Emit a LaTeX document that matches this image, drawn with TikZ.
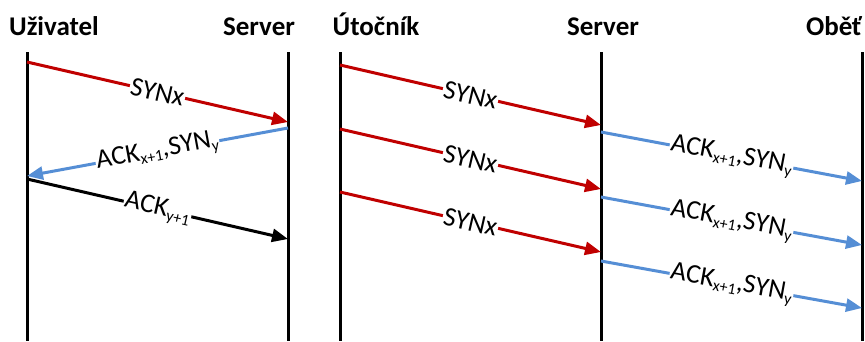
\documentclass[tikz,border=0pt]{standalone}
\usepackage{fontspec}
\setmainfont{Carlito}
\usetikzlibrary{arrows.meta}
\definecolor{synred}{RGB}{192,0,0}
\definecolor{ackblue}{RGB}{85,142,213}
% lowered, smaller index text for message labels
\newcommand\idx[1]{\raisebox{-0.32ex}{\fontsize{16}{16}\selectfont #1}}

\begin{document}
\begin{tikzpicture}[x=1pt,y=-1pt,
  lifeline/.style={line width=3pt},
  msg/.style={line width=3pt,-{Triangle[length=16pt,width=13pt]}},
  title/.style={font=\fontsize{27}{30}\selectfont\bfseries,anchor=base,inner sep=0pt},
  lbl/.style={fill=white,inner sep=1pt,sloped,font=\fontsize{27}{30}\selectfont}
]
\useasboundingbox (0,0) rectangle (865,341);

% participants
\node[title] (user)   at (54,35)  {Uživatel};
\node[title] (srvA)   at (259,35) {Server};
\node[title] (atk)    at (376,35) {Útočník};
\node[title] (srvB)   at (603,35) {Server};
\node[title] (victim) at (834,35) {Oběť};

% lifelines
\coordinate (userTop) at (27,52);   \coordinate (userBot) at (27,341);
\coordinate (srvATop) at (288,52);  \coordinate (srvABot) at (288,341);
\coordinate (atkTop)  at (340,52);  \coordinate (atkBot)  at (340,341);
\coordinate (srvBTop) at (601,52);  \coordinate (srvBBot) at (601,341);
\coordinate (vicTop)  at (862,52);  \coordinate (vicBot)  at (862,341);
\foreach \l in {user,srvA,atk,srvB,vic}
  \draw[lifeline] (\l Top) -- (\l Bot);

% three-way handshake
\coordinate (u1) at (27,62);   \coordinate (s1) at (288,122);
\coordinate (s2) at (288,128); \coordinate (u2) at (27,176);
\coordinate (u3) at (27,179);  \coordinate (s3) at (288,239);
\draw[msg,synred]  (u1) -- node[lbl,text=black] {SYNx} (s1);
\draw[msg,ackblue] (s2) -- node[lbl,text=black] {ACK\idx{x+1},SYN\idx{y}} (u2);
\draw[msg,black]   (u3) -- node[lbl] {ACK\idx{y+1}} (s3);

% reflected SYN flood
\coordinate (a1) at (340,65);  \coordinate (m1) at (601,125);
\coordinate (a2) at (340,129); \coordinate (m2) at (601,189);
\coordinate (a3) at (340,192); \coordinate (m3) at (601,252);
\coordinate (m4) at (601,132); \coordinate (o1) at (862,181);
\coordinate (m5) at (601,197); \coordinate (o2) at (862,245);
\coordinate (m6) at (601,261); \coordinate (o3) at (862,308);
\foreach \s/\e in {a1/m1,a2/m2,a3/m3}
  \draw[msg,synred] (\s) -- node[lbl,text=black] {SYNx} (\e);
\foreach \s/\e in {m4/o1,m5/o2,m6/o3}
  \draw[msg,ackblue] (\s) -- node[lbl,text=black] {ACK\idx{x+1},SYN\idx{y}} (\e);
\end{tikzpicture}
\end{document}
